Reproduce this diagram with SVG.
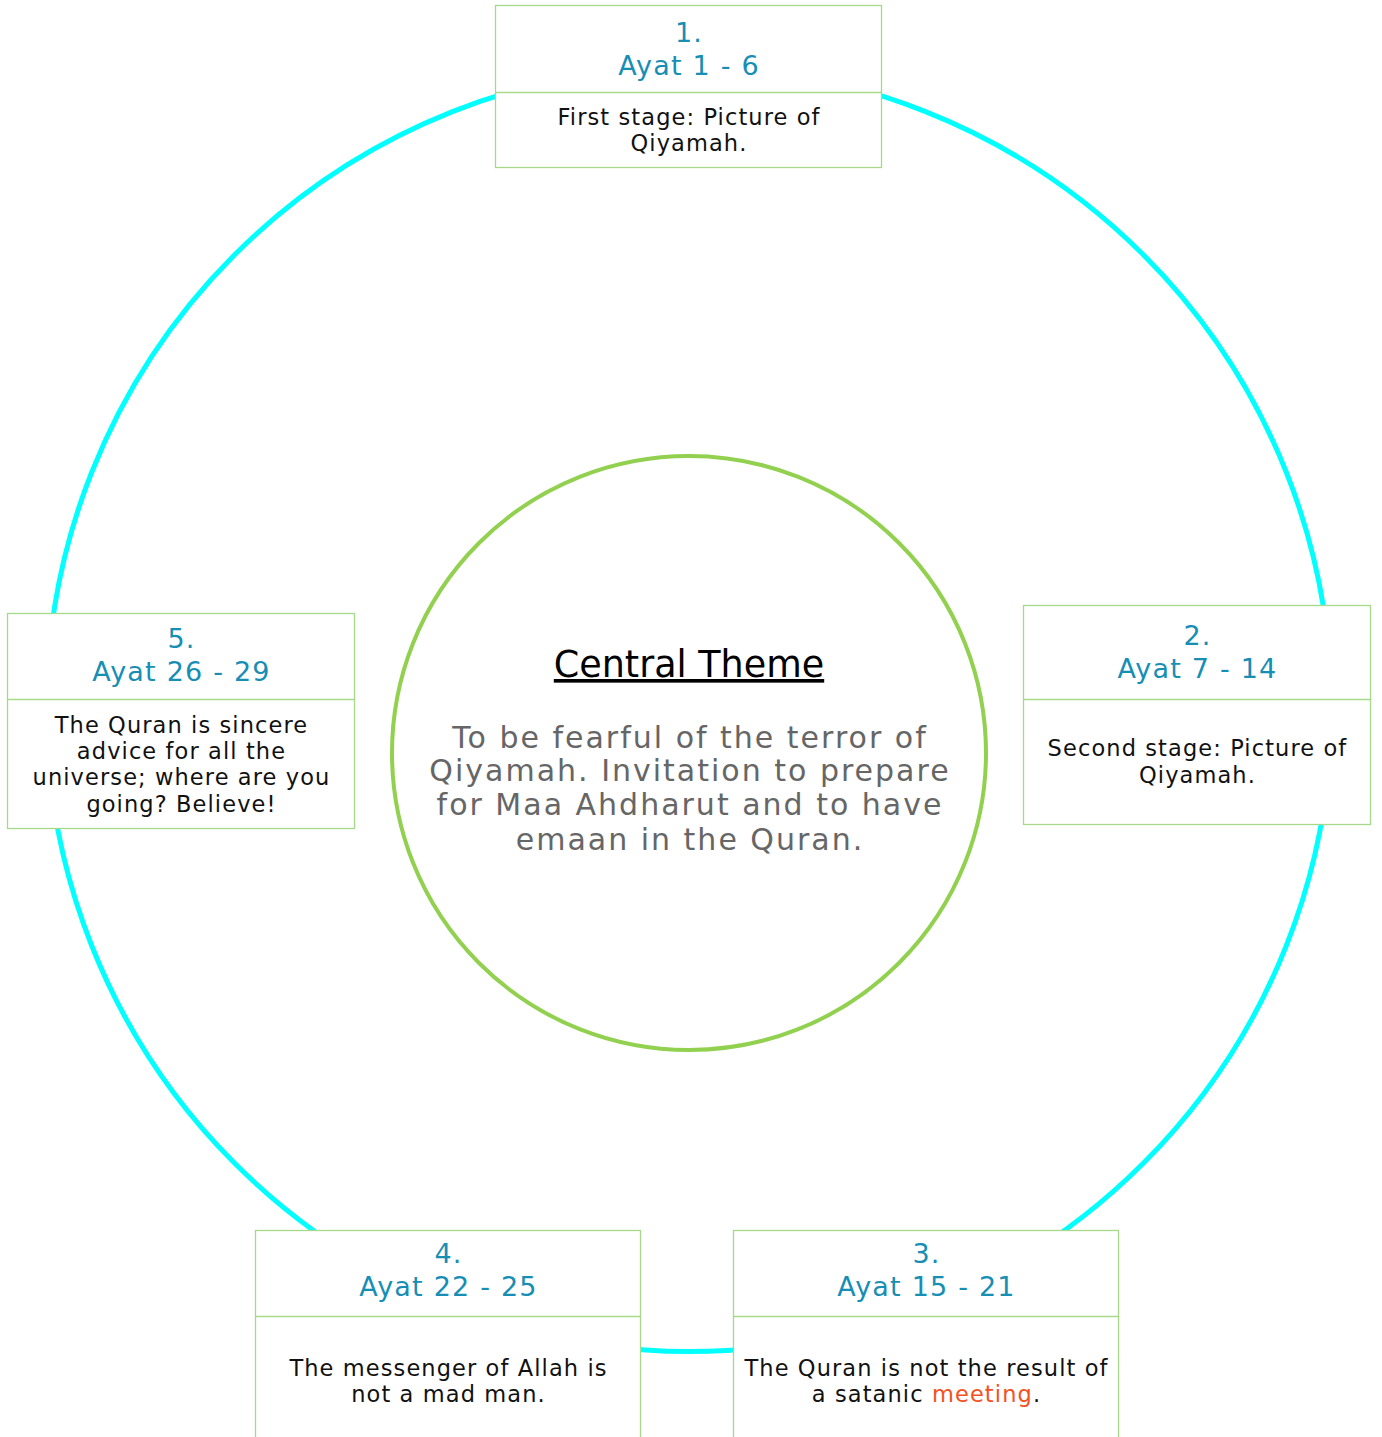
<svg xmlns="http://www.w3.org/2000/svg" width="1382" height="1437" viewBox="0 0 1382 1437">
<style>
.box{fill:#fff;stroke:#A6D98A;stroke-width:1.3}
.div{stroke:#A6D98A;stroke-width:1.3}
.ttl{font-family:"DejaVu Sans","Liberation Sans",sans-serif;font-size:27px;letter-spacing:1.2px;fill:#178EB4;text-anchor:middle}
.body{font-family:"DejaVu Sans","Liberation Sans",sans-serif;font-size:22.5px;letter-spacing:1.1px;fill:#111;text-anchor:middle}
.ctitle{font-family:"DejaVu Sans","Liberation Sans",sans-serif;font-size:36.5px;fill:#000;text-anchor:middle;text-decoration:underline}
.cbody{font-family:"DejaVu Sans","Liberation Sans",sans-serif;font-size:30px;letter-spacing:2px;fill:#666;text-anchor:middle}
</style>
<rect width="1382" height="1437" fill="#fff"/>
<g id="connectors">
<circle cx="689" cy="709" r="642.5" fill="none" stroke="#00FFFF" stroke-width="5"/>
</g>
<g id="central">
<circle cx="689" cy="753" r="297" fill="none" stroke="#92D050" stroke-width="4"/>
<text class="ctitle" x="689" y="677">Central Theme</text>
<text class="cbody" x="690" y="748">To be fearful of the terror of</text>
<text class="cbody" x="690" y="781">Qiyamah. Invitation to prepare</text>
<text class="cbody" x="690" y="815">for Maa Ahdharut and to have</text>
<text class="cbody" x="690" y="850">emaan in the Quran.</text>
</g>
<g id="node1">
<rect class="box" x="495.5" y="5.5" width="386" height="162"/>
<line class="div" x1="495.5" y1="92.5" x2="881.5" y2="92.5"/>
<text class="ttl" x="689" y="42">1.</text>
<text class="ttl" x="689" y="75">Ayat 1 - 6</text>
<text class="body" x="689" y="125">First stage: Picture of</text>
<text class="body" x="689" y="151">Qiyamah.</text>
</g>
<g id="node2">
<rect class="box" x="1023.5" y="605.5" width="347" height="219"/>
<line class="div" x1="1023.5" y1="699.5" x2="1370.5" y2="699.5"/>
<text class="ttl" x="1197.5" y="645">2.</text>
<text class="ttl" x="1197.5" y="678">Ayat 7 - 14</text>
<text class="body" x="1197.5" y="756">Second stage: Picture of</text>
<text class="body" x="1197.5" y="783">Qiyamah.</text>
</g>
<g id="node3">
<rect class="box" x="733.5" y="1230.5" width="385" height="220"/>
<line class="div" x1="733.5" y1="1316.5" x2="1118.5" y2="1316.5"/>
<text class="ttl" x="926.5" y="1263">3.</text>
<text class="ttl" x="926.5" y="1296">Ayat 15 - 21</text>
<text class="body" x="926.5" y="1376">The Quran is not the result of</text>
<text class="body" x="926.5" y="1402">a satanic <tspan fill="#F4511E">meeting</tspan>.</text>
</g>
<g id="node4">
<rect class="box" x="255.5" y="1230.5" width="385" height="220"/>
<line class="div" x1="255.5" y1="1316.5" x2="640.5" y2="1316.5"/>
<text class="ttl" x="448.5" y="1263">4.</text>
<text class="ttl" x="448.5" y="1296">Ayat 22 - 25</text>
<text class="body" x="448.5" y="1376">The messenger of Allah is</text>
<text class="body" x="448.5" y="1402">not a mad man.</text>
</g>
<g id="node5">
<rect class="box" x="7.5" y="613.5" width="347" height="215"/>
<line class="div" x1="7.5" y1="699.5" x2="354.5" y2="699.5"/>
<text class="ttl" x="181.5" y="648">5.</text>
<text class="ttl" x="181.5" y="681">Ayat 26 - 29</text>
<text class="body" x="181.5" y="733">The Quran is sincere</text>
<text class="body" x="181.5" y="759">advice for all the</text>
<text class="body" x="181.5" y="785">universe; where are you</text>
<text class="body" x="181.5" y="812">going? Believe!</text>
</g>
</svg>
